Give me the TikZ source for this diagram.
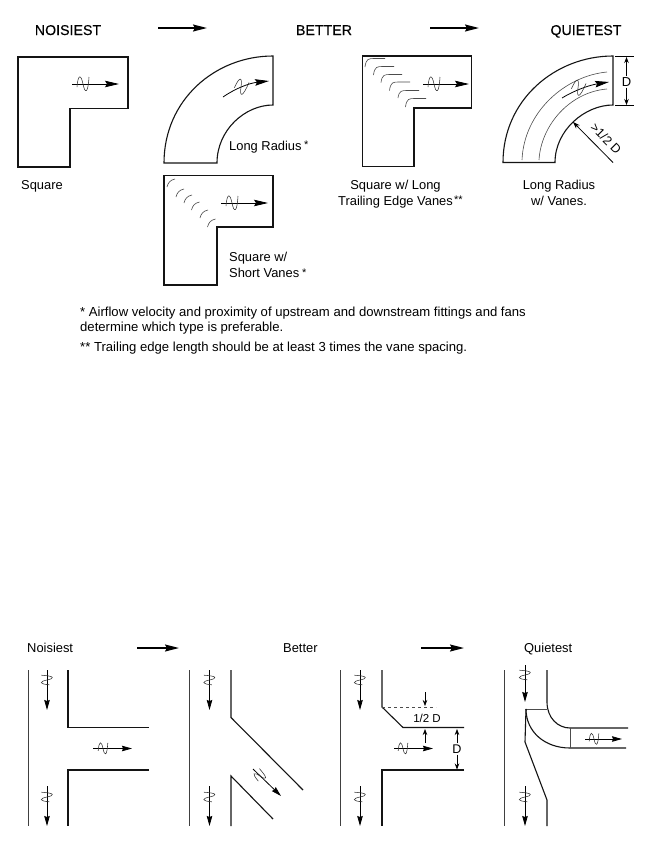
\documentclass[tikz,border=0pt]{standalone}
\usepackage{fontspec}
\setmainfont{Liberation Sans}
\newfontfamily\headf[FakeBold=0.35]{Liberation Sans}
\usetikzlibrary{arrows.meta}
\tikzset{
  duct/.style={line width=1.1pt,line join=miter,black!92},
  wall/.style={line width=0.9pt,black!75},
  vane/.style={line width=0.6pt,black!70},
  bigarrow/.style={line width=1.6pt,-{Stealth[length=14pt,width=7pt,inset=2pt]}},
  flow/.style={line width=0.8pt,-{Stealth[length=14pt,width=6.5pt,inset=2pt]}},
  smallflow/.style={line width=0.8pt,-{Stealth[length=10pt,width=5.5pt,inset=1pt]}},
  tiny arrow/.style={line width=0.7pt,-{Stealth[length=6pt,width=4.5pt]}},
  head/.style={font=\headf\fontsize{14.2}{16}\selectfont,anchor=base},
  lab/.style={font=\fontsize{12.9}{15}\selectfont,anchor=base west,inner sep=0pt},
  note/.style={font=\fontsize{13.1}{15}\selectfont,anchor=base west,inner sep=0pt},
  sub/.style={font=\fontsize{12.9}{15}\selectfont,anchor=base},
  wavyline/.style={line width=0.55pt,black!80},
}
\newcommand{\wavy}[4][1]{%
  \begin{scope}[shift={(#2,#3)},rotate=#4,scale=#1]
    \draw[wavyline] (-6,3) .. controls (-5,-10) and (-2,-10) .. (0,0) .. controls (2,10) and (5,10) .. (6,-7);
  \end{scope}}
\newcommand{\lvane}[4]{\draw[vane] (#1,#2) .. controls (#1+1,#4) and (#1+4,#4) .. (#1+9,#4) -- (#3,#4);}
\begin{document}
\begin{tikzpicture}[x=1pt,y=-1pt]
\useasboundingbox (0,0) rectangle (646,852);
\fill[white] (0,0) rectangle (646,852);
% headers
\node[head] (hn) at (68,35) {NOISIEST};
\node[head] (hb) at (324,35) {BETTER};
\node[head] (hq) at (586,35) {QUIETEST};
\coordinate (a1s) at (158,28); \coordinate (a1e) at (207,28);
\coordinate (a2s) at (430,28); \coordinate (a2e) at (479,28);
\draw[bigarrow] (a1s) -- (a1e);
\draw[bigarrow] (a2s) -- (a2e);
% square
\draw[duct] (18,57) -- (128,57) -- (128,108.5) -- (70,108.5) -- (70,167) -- (18,167) -- cycle;
\draw[flow] (72,84) -- (119,84); \wavy{83}{84}{0}
\node[lab] (l1) at (21,189) {Square};
% long radius
\draw[duct] (164,163) .. controls (164,100) and (215,56) .. (273,56) -- (273,105) .. controls (245,105) and (217,130) .. (217,163) -- cycle;
\draw[flow] (223,97) .. controls (236,88) and (250,83) .. (269,81); \wavy{241}{87}{-20}
\node[lab] (l2) at (229,150) {Long Radius};
\node[lab,font=\fontsize{11}{12}\selectfont] (l2s) at (304,148) {*};
% short vanes
\draw[duct] (164,175.5) -- (273,175.5) -- (273,227) -- (217,227) -- (217,285) -- (164,285) -- cycle;
\foreach \x/\y in {167/187,176/197,184/203,191.5/210,200/218,207.5/227}
  \draw[vane] (\x,\y) .. controls (\x+1,\y-4) and (\x+3,\y-7) .. (\x+8,\y-8);
\draw[flow] (221,203) -- (268,203); \wavy{232}{203}{0}
\node[lab] (l3) at (229,261) {Square w/};
\node[lab] (l3b) at (229,277) {Short Vanes};
\node[lab,font=\fontsize{11}{12}\selectfont] (l3s) at (302,276) {*};
% long vanes
\draw[duct] (362.5,56) -- (471.5,56) -- (471.5,108) -- (414,108) -- (414,166.5) -- (362.5,166.5) -- cycle;
\lvane{365}{67}{385}{58.5}
\lvane{373.5}{75}{394}{66.5}
\lvane{381}{82.5}{402}{74.5}
\lvane{389.5}{90.5}{410}{82}
\lvane{398}{98}{419}{90.5}
\lvane{405.5}{107}{426}{98.5}
\draw[flow] (423,84) -- (469,84); \wavy{434}{84}{0}
\node[sub] (l4) at (395.5,189) {Square w/ Long};
\node[sub] (l4b) at (395.5,205) {Trailing Edge Vanes};
\node[lab,font=\fontsize{11}{12}\selectfont] (l4s) at (454,203) {**};
% long radius with vanes
\draw[duct] (503,162.5) .. controls (503,100) and (555,56) .. (613,56) -- (613,105) .. controls (585,105) and (555,130) .. (555,162.5) -- cycle;
\draw[vane] (522,160) .. controls (524,112) and (565,76) .. (607,72);
\draw[vane] (539,160) .. controls (541,125) and (570,92) .. (607,89);
\draw[flow] (562,98) .. controls (575,90) and (590,85) .. (609,82); \wavy{578}{88}{-20}
\coordinate (d1) at (615,56); \coordinate (d2) at (634,56); \coordinate (d3) at (615,105.5); \coordinate (d4) at (634,105.5);
\draw[line width=0.7pt] (d1) -- (d2) (d3) -- (d4);
\node[font=\fontsize{13}{15}\selectfont,inner sep=1pt] (dl) at (626.5,82) {D};
\draw[tiny arrow] (dl.north) -- (626.5,57);
\draw[tiny arrow] (dl.south) -- (626.5,105);
\coordinate (r1) at (613,162.5); \coordinate (r2) at (573,122);
\draw[line width=0.8pt,-{Stealth[length=7pt,width=5pt]}] (r1) -- (r2);
\node[font=\fontsize{12.6}{15}\selectfont,rotate=-45,inner sep=0pt] (rl) at (606,138.5) {>1/2 D};
\node[sub] (l5) at (559,189) {Long Radius};
\node[sub] (l5b) at (559,205) {w/ Vanes.};
% notes
\node[note] (n1) at (80,316) {* Airflow velocity and proximity of upstream and downstream fittings and fans};
\node[note] (n2) at (80,331) {determine which type is preferable.};
\node[note] (n3) at (80,351) {** Trailing edge length should be at least 3 times the vane spacing.};
% lower headers
\node[lab] (bn) at (27,652) {Noisiest};
\node[lab] (bb) at (283,652) {Better};
\node[lab] (bq) at (524,652) {Quietest};
\coordinate (a3s) at (137,648); \coordinate (a3e) at (179,648);
\coordinate (a4s) at (421,648); \coordinate (a4e) at (464,648);
\draw[bigarrow] (a3s) -- (a3e);
\draw[bigarrow] (a4s) -- (a4e);
% T1
\draw[wall] (28,670) -- (28,826);
\draw[duct] (68,670) -- (68,727.5) -- (149,727.5);
\draw[duct] (149,770) -- (68,770) -- (68,826);
\draw[smallflow] (47,670) -- (47,710); \wavy[0.8]{47}{680}{90}
\draw[smallflow] (47,786) -- (47,826); \wavy[0.8]{47}{797}{90}
\draw[smallflow] (93,748.5) -- (132,748.5); \wavy[0.8]{103}{748.5}{0}
% T2
\draw[wall] (189,670) -- (189,826);
\draw[duct] (231,670) -- (231,717.5) -- (303,790);
\draw[duct] (231,826) -- (231,776) -- (273,819);
\draw[smallflow] (209.5,670) -- (209.5,710); \wavy[0.8]{209.5}{680}{90}
\draw[smallflow] (209.5,786) -- (209.5,826); \wavy[0.8]{209.5}{797}{90}
\draw[smallflow] (253,769) -- (281,796); \wavy[0.8]{260}{776}{45}
% T3
\draw[wall] (340,670) -- (340,826);
\draw[duct] (382,670) -- (382,707) -- (403,727.5) -- (464,727.5);
\draw[duct] (464,770) -- (382,770) -- (382,826);
\draw[vane,dashed,line width=0.6pt] (382,707) -- (436,707);
\draw[smallflow] (360,670) -- (360,710); \wavy[0.8]{360}{680}{90}
\draw[smallflow] (360,786) -- (360,826); \wavy[0.8]{360}{797}{90}
\draw[smallflow] (394,748.5) -- (433,748.5); \wavy[0.8]{403}{748.5}{0}
\draw[tiny arrow] (425,692) -- (425,706);
\draw[tiny arrow] (425,743) -- (425,729);
\node[font=\fontsize{11.5}{14}\selectfont,inner sep=0pt] (hd) at (427,718) {1/2 D};
\node[font=\fontsize{12.6}{15}\selectfont,inner sep=1pt] (dd) at (457,749) {D};
\draw[tiny arrow] (dd.north) -- (457,729);
\draw[tiny arrow] (dd.south) -- (457,769.5);
% T4
\draw[wall] (504.5,670) -- (504.5,826);
\draw[duct] (547,670) -- (547,702) .. controls (547,718) and (558,728) .. (570,728) -- (628,728);
\draw[vane,line width=0.7pt] (526,709) -- (547,709);
\draw[duct] (526,709) .. controls (526,732) and (545,748) .. (570,748) -- (626,748);
\draw[duct] (526,709) -- (525,742) -- (547,800) -- (547,826);
\draw[vane] (570,728) -- (570,748);
\draw[smallflow] (525,665) -- (525,702); \wavy[0.8]{525}{675}{90}
\draw[smallflow] (525,786) -- (525,826); \wavy[0.8]{525}{797}{90}
\draw[smallflow] (585,739) -- (622,739); \wavy[0.8]{594}{739}{0}
\end{tikzpicture}
\end{document}
